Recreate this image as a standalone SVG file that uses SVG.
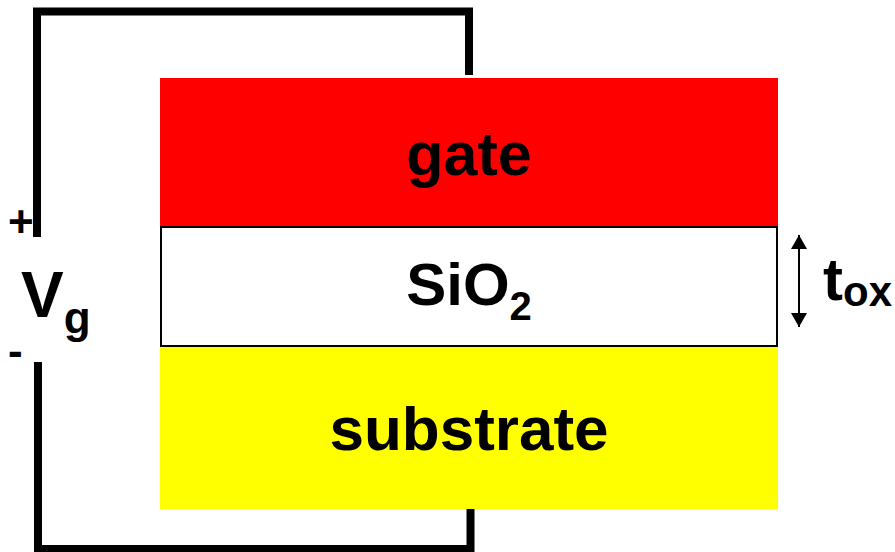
<svg xmlns="http://www.w3.org/2000/svg" width="895" height="552" viewBox="0 0 895 552">
<defs>
<style>
.wire{fill:none;stroke:#000;stroke-width:8;stroke-linejoin:miter;stroke-linecap:butt}
.lbl{font-family:"Liberation Sans",Arial,sans-serif;font-weight:bold;fill:#000}
</style>
<marker id="ah" viewBox="0 0 14 16" refX="14" refY="8" markerWidth="14" markerHeight="16" markerUnits="userSpaceOnUse" orient="auto">
<path d="M0,0 L14,8 L0,16 Z" fill="#000"/>
</marker>
</defs>
<rect width="895" height="552" fill="#fff"/>
<g id="gate">
<rect x="160" y="78" width="618" height="149" fill="#ff0000"/>
<text class="lbl" x="469" y="175" font-size="61" text-anchor="middle">gate</text>
</g>
<g id="oxide">
<rect x="161" y="227" width="616" height="119" fill="#fff" stroke="#000" stroke-width="2"/>
<text class="lbl" x="469" y="305" font-size="60" text-anchor="middle">SiO<tspan font-size="40" dy="15">2</tspan></text>
</g>
<g id="substrate">
<rect x="160" y="347" width="618" height="162" fill="#ffff00"/>
<text class="lbl" x="469" y="450" font-size="62" text-anchor="middle">substrate</text>
</g>
<g id="source">
<text class="lbl" x="8" y="237" font-size="44">+</text>
<text class="lbl" x="21" y="317" font-size="64">V<tspan font-size="44" dy="16">g</tspan></text>
<text class="lbl" x="8" y="366" font-size="44">-</text>
</g>
<g id="connectors">
<path class="wire" d="M37,237 V11.5 H469 V75"/>
<path class="wire" d="M38,362 V549 H470.5 V509"/>
<line x1="799" y1="281" x2="799" y2="235" stroke="#000" stroke-width="2" marker-end="url(#ah)"/>
<line x1="799" y1="281" x2="799" y2="327" stroke="#000" stroke-width="2" marker-end="url(#ah)"/>
</g>
<g id="tox">
<text class="lbl" x="823" y="300" font-size="60">t<tspan font-size="42" dy="6">ox</tspan></text>
</g>
</svg>
